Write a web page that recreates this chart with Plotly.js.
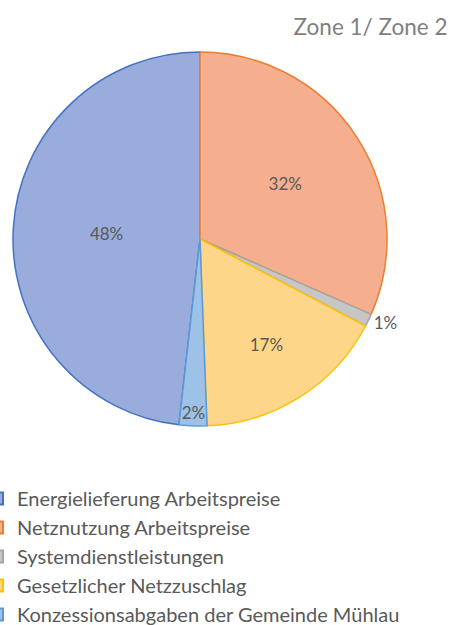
<!DOCTYPE html>
<html>
<head>
<meta charset="utf-8">
<script src="https://cdn.plot.ly/plotly-3.0.1.min.js"></script>
<style>html,body{margin:0;padding:0;background:#fff;overflow:hidden}#chart{width:453px;height:625px}</style>
</head>
<body>
<div id="chart"></div>
<script>
const categories = [
  "Energielieferung Arbeitspreise",
  "Netznutzung Arbeitspreise",
  "Systemdienstleistungen",
  "Gesetzlicher Netzzuschlag",
  "Konzessionsabgaben der Gemeinde Mühlau"
];
const shares = [48.2, 31.6, 1.1, 16.7, 2.4];
const fillColors = ["#9aacdc", "#f5ae8e", "#c6c6c6", "#fed68a", "#9dc1e7"];
const lineColors = ["#4472c4", "#ed7d31", "#a5a5a5", "#ffc000", "#5b9bd5"];
const labelPositions = ["inside", "inside", "outside", "inside", "inside"];
const chartTitle = "Zone 1/ Zone 2";

const total = shares.reduce((a, b) => a + b, 0);
const rotation = 360 * (1 - shares[0] / total);

const W = 453, H = 625;
const cx = 200, cy = 239, R = 187;

const trace = {
  type: "pie",
  labels: categories,
  values: shares,
  sort: false,
  direction: "clockwise",
  rotation: rotation,
  marker: {colors: fillColors, line: {color: lineColors, width: 1.5}},
  textinfo: "percent",
  texttemplate: "%{percent:.0%}",
  textposition: labelPositions,
  insidetextorientation: "horizontal",
  textfont: {family: "Lato, 'Open Sans', sans-serif", size: 17, color: "#595959"},
  hoverinfo: "label+percent",
  domain: {x: [(cx - R) / W, (cx + R) / W], y: [1 - (cy + R) / H, 1 - (cy - R) / H]}
};

const layout = {
  width: W, height: H,
  margin: {l: 0, r: 0, t: 0, b: 0, autoexpand: false},
  paper_bgcolor: "#ffffff",
  showlegend: true,
  title: {text: chartTitle, x: 0.988, xanchor: "right", y: 1 - 27 / H, yanchor: "middle", automargin: false,
          font: {family: "Lato, 'Open Sans', sans-serif", size: 22.5, color: "#7f7f7f"}},
  legend: {x: -23 / W, xanchor: "left", y: 1 - 479 / H, yanchor: "top", maxheight: 1000,
           font: {family: "Lato, 'Open Sans', sans-serif", size: 20, color: "#595959"},
           tracegroupgap: 0, itemsizing: "constant", bgcolor: "rgba(0,0,0,0)"},
  uniformtext: {minsize: 17, mode: "show"}
};

Plotly.newPlot("chart", [trace], layout, {displayModeBar: false, staticPlot: true});
</script>
</body>
</html>
